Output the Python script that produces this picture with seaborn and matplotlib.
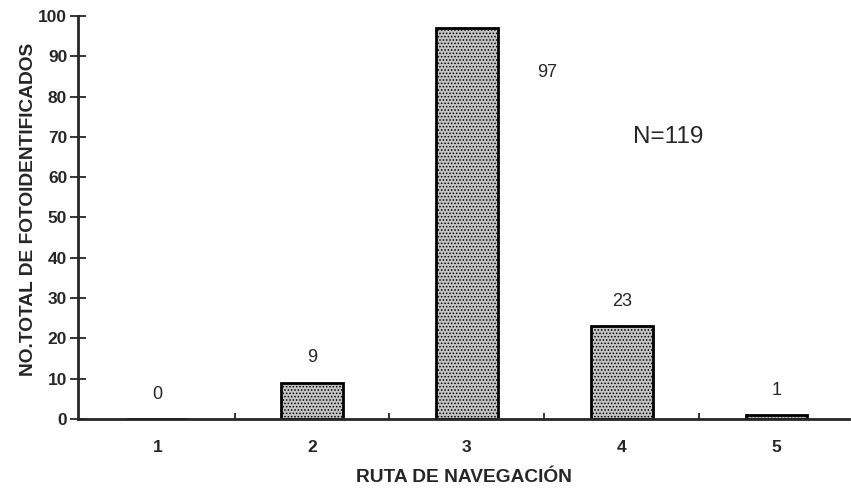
import matplotlib
matplotlib.use("Agg")
import matplotlib.pyplot as plt
import seaborn as sns
import pandas as pd

# data
rutas = ["1", "2", "3", "4", "5"]
fotoidentificados = [0, 9, 97, 23, 1]
etiquetas = ["0", "9", "97", "23", "1"]
total_n = "N=119"

sns.set_style("ticks")
plt.rcParams["font.family"] = ["Liberation Sans", "DejaVu Sans"]
plt.rcParams["hatch.linewidth"] = 0.7

df = pd.DataFrame({"ruta": rutas, "n": fotoidentificados})

fig = plt.figure(figsize=(8.51, 4.96), dpi=100)
ax = fig.add_axes([0.092, 0.155, 0.906, 0.813])

sns.barplot(data=df, x="ruta", y="n", ax=ax, width=0.4,
            color="#c4c4c4", edgecolor="black", linewidth=2,
            hatch=".....", saturation=1)

ax.set_ylim(0, 100)
ax.set_xlim(-0.51, 4.47)
ax.set_yticks(range(0, 101, 10))
ax.set_xticks(range(len(rutas)))
ax.set_xticks([0.5, 1.5, 2.5, 3.5], minor=True)
ax.tick_params(axis="y", direction="inout", length=12, width=1.3,
               labelsize=12.5, pad=2)
ax.tick_params(axis="x", which="major", length=0, labelsize=12.5, pad=15)
ax.tick_params(axis="x", which="minor", direction="in", length=4, width=1.3)
for lab in ax.get_xticklabels() + ax.get_yticklabels():
    lab.set_fontweight("bold")

sns.despine(ax=ax)
ax.spines["left"].set_linewidth(2)
ax.spines["bottom"].set_linewidth(2)

ax.set_ylabel("NO.TOTAL DE FOTOIDENTIFICADOS", fontsize=13.8,
              fontweight="bold")
ax.yaxis.set_label_coords(-0.053, 0.52)
ax.set_xlabel("RUTA DE NAVEGACIÓN", fontsize=13.8, fontweight="bold",
              labelpad=10)

# value labels above the bars; the tall one sits to its right
for i, (v, t) in enumerate(zip(fotoidentificados, etiquetas)):
    if v > 90:
        ax.text(i + 0.52, 86, t, ha="center", va="center", fontsize=13)
    else:
        ax.text(i, v + 6.2, t, ha="center", va="center", fontsize=13)

ax.text(3.3, 70, total_n, ha="center", va="center", fontsize=17.5)

fig.savefig("out.png", dpi=100)
